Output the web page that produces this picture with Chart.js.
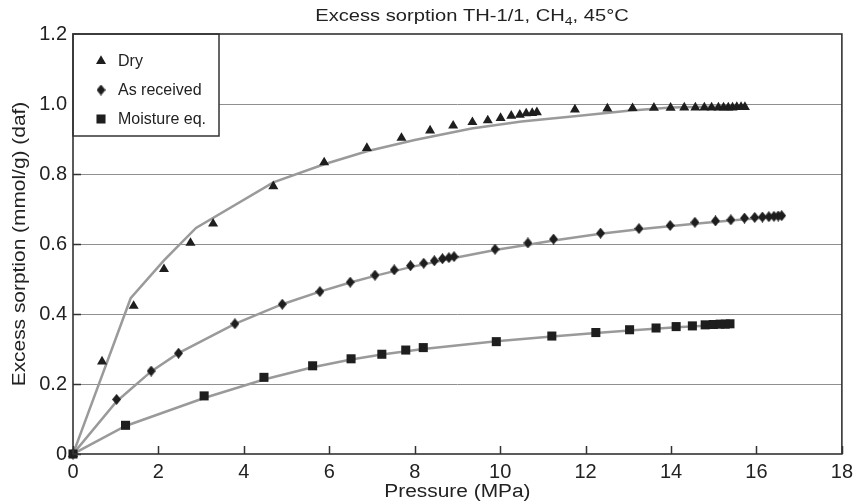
<!DOCTYPE html>
<html><head><meta charset="utf-8">
<script src="https://cdn.jsdelivr.net/npm/chart.js@4.4.1/dist/chart.umd.min.js"></script>
<style>html,body{margin:0;padding:0;background:#fff;overflow:hidden}#wrap{position:relative;width:859px;height:503px}</style>
</head><body><div id="wrap"><canvas id="c" width="859" height="503"></canvas></div>
<script>
// ---- text ----
const titleMain = 'Excess sorption TH-1/1, CH';
const titleSub = '4';
const titleEnd = ', 45°C';
const xAxisTitle = 'Pressure (MPa)';
const yAxisTitle = 'Excess sorption (mmol/g) (daf)';
const seriesNames = ['Dry', 'As received', 'Moisture eq.'];
const xTickLabels = ['0','2','4','6','8','10','12','14','16','18'];
const yTickLabels = ['0','0.2','0.4','0.6','0.8','1.0','1.2'];

// ---- measured points ----
const dryP = [0,0.68,1.42,2.13,2.75,3.28,4.69,5.88,6.88,7.69,8.36,8.90,9.35,9.71,10.01,10.26,10.46,10.61,10.75,10.86,11.75,12.51,13.10,13.60,13.99,14.31,14.57,14.78,14.95,15.11,15.23,15.34,15.44,15.54,15.64,15.73];
const dryV = [0,0.264,0.423,0.528,0.603,0.658,0.765,0.833,0.874,0.903,0.924,0.938,0.948,0.953,0.960,0.966,0.969,0.973,0.974,0.976,0.984,0.987,0.988,0.989,0.989,0.990,0.990,0.990,0.990,0.990,0.990,0.990,0.990,0.991,0.991,0.991];
const arP = [0,1.02,1.83,2.47,3.79,4.90,5.78,6.49,7.07,7.52,7.90,8.21,8.46,8.65,8.80,8.92,9.88,10.65,11.25,12.35,13.25,13.98,14.56,15.04,15.40,15.72,15.96,16.14,16.29,16.41,16.51,16.59];
const arV = [0,0.156,0.237,0.288,0.372,0.428,0.464,0.491,0.511,0.526,0.538,0.545,0.552,0.558,0.561,0.564,0.585,0.603,0.614,0.631,0.644,0.653,0.662,0.666,0.669,0.674,0.676,0.677,0.678,0.679,0.680,0.681];
const moP = [0,1.23,3.07,4.47,5.61,6.51,7.23,7.79,8.20,9.91,11.21,12.24,13.03,13.65,14.12,14.50,14.80,14.99,15.15,15.27,15.38];
const moV = [0,0.082,0.166,0.219,0.252,0.272,0.285,0.297,0.304,0.321,0.337,0.347,0.355,0.360,0.364,0.366,0.369,0.370,0.371,0.371,0.372];

// ---- fitted curves ----
const dryFitP = [0,1.35,2.13,2.88,4.69,5.88,6.88,8.0,9.33,10.5,11.8,13.0,14.0,15.73];
const dryFitV = [0,0.445,0.553,0.646,0.776,0.828,0.865,0.897,0.930,0.950,0.966,0.981,0.990,0.994];
const arFitP = [0,1.02,1.83,2.47,3.79,4.90,5.78,6.49,7.07,7.90,8.92,9.88,10.65,11.25,12.35,13.25,14.56,15.40,16.59];
const arFitV = [0,0.150,0.236,0.288,0.372,0.428,0.464,0.490,0.509,0.534,0.560,0.583,0.598,0.610,0.629,0.642,0.658,0.667,0.679];
const moFitP = [0,1.23,3.07,4.47,5.61,6.51,7.23,8.20,9.91,11.21,12.24,13.03,14.12,15.38];
const moFitV = [0,0.080,0.160,0.213,0.248,0.270,0.284,0.300,0.322,0.336,0.346,0.353,0.362,0.370];

const FONT = '"Liberation Sans", Arial, Helvetica, sans-serif';
const INK = '#1e1e1e';
const LINE = '#9a9a9a';

function pts(px, py) { return px.map((p, i) => ({x: p, y: py[i]})); }

// tall diamond marker
const diamond = document.createElement('canvas');
diamond.width = 9; diamond.height = 11;
(function(){ const g = diamond.getContext('2d'); g.fillStyle = INK; g.beginPath(); g.moveTo(4.5,0); g.lineTo(9,5.5); g.lineTo(4.5,11); g.lineTo(0,5.5); g.closePath(); g.fill(); })();

const markerStyles = [
  {pointStyle: 'triangle', radius: 5.8},
  {pointStyle: diamond, radius: 5},
  {pointStyle: 'rect', radius: 6.4}
];

function fitSet(label, d) {
  return {label, data: d, showLine: true, borderColor: LINE, borderWidth: 2.5, pointRadius: 0, fill: false, order: 2, tension: 0};
}
function markSet(i, d) {
  return {label: seriesNames[i], data: d, showLine: false, pointStyle: markerStyles[i].pointStyle,
    pointRadius: markerStyles[i].radius, pointBackgroundColor: INK, pointBorderWidth: 0, order: 1, clip: false};
}

const decor = {
  id: 'decor',
  afterDraw(chart) {
    const ctx = chart.ctx, a = chart.chartArea, xs = chart.scales.x, ys = chart.scales.y;
    ctx.save();
    // inner ticks
    ctx.strokeStyle = '#333'; ctx.lineWidth = 1.5;
    ctx.beginPath();
    xs.ticks.forEach(t => { const x = Math.round(xs.getPixelForValue(t.value)) + 0.5; ctx.moveTo(x, a.bottom); ctx.lineTo(x, a.bottom - 8); });
    ys.ticks.forEach(t => { const y = Math.round(ys.getPixelForValue(t.value)) + 0.5; ctx.moveTo(a.left, y); ctx.lineTo(a.left + 8, y); });
    ctx.stroke();
    // legend
    const lx = a.left, ly = a.top, lw = 146, lh = 102;
    ctx.fillStyle = '#fff'; ctx.fillRect(lx, ly, lw, lh);
    ctx.strokeStyle = '#333'; ctx.lineWidth = 1.5; ctx.strokeRect(lx, ly, lw, lh);
    ctx.font = '16px ' + FONT; ctx.textBaseline = 'middle'; ctx.textAlign = 'left';
    seriesNames.forEach((n, i) => {
      const y = ly + 27 + i * 29;
      ctx.fillStyle = INK; ctx.strokeStyle = INK;
      Chart.helpers.drawPoint(ctx, {pointStyle: markerStyles[i].pointStyle, radius: markerStyles[i].radius, rotation: 0, borderWidth: 0}, lx + 28, y);
      ctx.fillStyle = '#222';
      ctx.fillText(n, lx + 45, y + 1);
    });
    // box
    ctx.strokeStyle = '#333'; ctx.lineWidth = 1.6;
    ctx.strokeRect(a.left, a.top, a.right - a.left, a.bottom - a.top);
    // title
    ctx.fillStyle = '#222'; ctx.textBaseline = 'alphabetic'; ctx.textAlign = 'left';
    const sx = 1.22;
    ctx.font = '16.5px ' + FONT; const w1 = ctx.measureText(titleMain).width, w3 = ctx.measureText(titleEnd).width;
    ctx.font = '11.5px ' + FONT; const w2 = ctx.measureText(titleSub).width;
    const tot = (w1 + w2 + w3) * sx;
    ctx.save(); ctx.translate(472 - tot / 2, 20.7); ctx.scale(sx, 1);
    ctx.font = '16.5px ' + FONT; ctx.fillText(titleMain, 0, 0);
    ctx.font = '11.5px ' + FONT; ctx.fillText(titleSub, w1, 4);
    ctx.font = '16.5px ' + FONT; ctx.fillText(titleEnd, w1 + w2, 0);
    ctx.restore();
    // axis titles
    ctx.textAlign = 'center';
    ctx.save(); ctx.translate((a.left + a.right) / 2, 497); ctx.scale(1.16, 1);
    ctx.font = '18px ' + FONT; ctx.fillText(xAxisTitle, 0, 0); ctx.restore();
    ctx.save(); ctx.translate(25, (a.top + a.bottom) / 2); ctx.rotate(-Math.PI / 2); ctx.scale(1.13, 1);
    ctx.font = '18.5px ' + FONT; ctx.fillText(yAxisTitle, 0, 0); ctx.restore();
    ctx.restore();
  }
};

new Chart(document.getElementById('c'), {
  type: 'scatter',
  data: {
    datasets: [
      markSet(0, pts(dryP, dryV)),
      markSet(1, pts(arP, arV)),
      markSet(2, pts(moP, moV)),
      fitSet('Dry fit', pts(dryFitP, dryFitV)),
      fitSet('As received fit', pts(arFitP, arFitV)),
      fitSet('Moisture eq. fit', pts(moFitP, moFitV))
    ]
  },
  options: {
    responsive: false, animation: false, devicePixelRatio: 1,
    layout: {padding: {left: 0, right: 13, top: 34, bottom: 0}},
    plugins: {legend: {display: false}, tooltip: {enabled: false}, title: {display: false}},
    scales: {
      x: {
        type: 'linear', min: 0, max: 18,
        ticks: {stepSize: 2, autoSkip: false, maxRotation: 0, padding: 6, color: '#222', font: {size: 20, family: FONT},
          callback: (v, i) => xTickLabels[i]},
        grid: {display: false, drawTicks: false}, border: {display: false},
        afterFit: s => { s.height = 49; }
      },
      y: {
        min: 0, max: 1.2,
        ticks: {stepSize: 0.2, autoSkip: false, padding: 6, color: '#222', font: {size: 20, family: FONT},
          callback: (v, i) => yTickLabels[i]},
        grid: {drawTicks: false, lineWidth: 1,
          color: c => (c.tick && (Math.abs(c.tick.value) < 1e-6 || Math.abs(c.tick.value - 1.2) < 1e-6)) ? 'rgba(0,0,0,0)' : '#8f8f8f'},
        border: {display: false},
        afterFit: s => { s.width = 73; }
      }
    }
  },
  plugins: [decor]
});
</script></body></html>
